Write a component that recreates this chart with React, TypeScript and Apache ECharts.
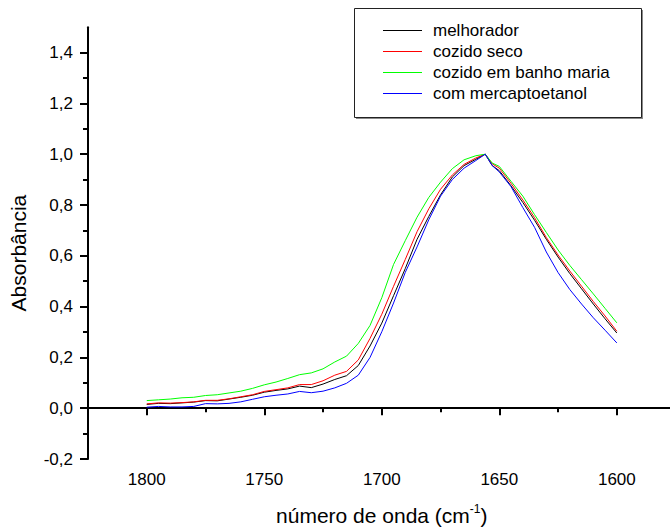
import React, { useEffect, useRef } from 'react';
import * as echarts from 'echarts';

const wavenumbers = [1800, 1795, 1790, 1785, 1780, 1775, 1770, 1765, 1760, 1755, 1750, 1745, 1740, 1735, 1730, 1725, 1720, 1715, 1710, 1705, 1700, 1695, 1690, 1685, 1680, 1675, 1670, 1665, 1660, 1656, 1653, 1650, 1645, 1640, 1635, 1630, 1625, 1620, 1615, 1610, 1605, 1600];

const melhorador = [0.015, 0.019, 0.018, 0.021, 0.024, 0.030, 0.029, 0.036, 0.043, 0.051, 0.063, 0.070, 0.076, 0.087, 0.081, 0.095, 0.113, 0.128, 0.168, 0.245, 0.335, 0.443, 0.55, 0.665, 0.755, 0.84, 0.91, 0.955, 0.98, 1.0, 0.955, 0.935, 0.875, 0.81, 0.74, 0.665, 0.595, 0.53, 0.47, 0.41, 0.352, 0.296];

const cozidoSeco = [0.017, 0.021, 0.020, 0.022, 0.025, 0.031, 0.031, 0.037, 0.045, 0.053, 0.066, 0.073, 0.080, 0.093, 0.093, 0.108, 0.130, 0.145, 0.190, 0.275, 0.370, 0.48, 0.586, 0.695, 0.785, 0.862, 0.918, 0.96, 0.985, 1.0, 0.962, 0.945, 0.885, 0.82, 0.75, 0.672, 0.603, 0.54, 0.48, 0.42, 0.363, 0.303];

const cozidoBanhoMaria = [0.030, 0.033, 0.036, 0.041, 0.043, 0.050, 0.053, 0.060, 0.067, 0.078, 0.092, 0.103, 0.117, 0.132, 0.139, 0.155, 0.182, 0.205, 0.255, 0.326, 0.435, 0.566, 0.66, 0.752, 0.83, 0.89, 0.943, 0.978, 0.994, 1.0, 0.965, 0.952, 0.893, 0.835, 0.762, 0.692, 0.623, 0.562, 0.506, 0.45, 0.393, 0.336];

const comMercaptoetanol = [0.004, 0.007, 0.005, 0.005, 0.007, 0.018, 0.017, 0.019, 0.025, 0.035, 0.045, 0.051, 0.056, 0.066, 0.061, 0.067, 0.080, 0.098, 0.13, 0.20, 0.301, 0.414, 0.535, 0.635, 0.742, 0.835, 0.9, 0.945, 0.975, 1.0, 0.955, 0.93, 0.872, 0.79, 0.712, 0.615, 0.534, 0.467, 0.41, 0.356, 0.307, 0.257];

const seriesNames = ['melhorador', 'cozido seco', 'cozido em banho maria', 'com mercaptoetanol'];
const seriesColors = ['#000000', '#ff0000', '#00ff00', '#0000ff'];

const xMajorTicks = [1800, 1750, 1700, 1650, 1600];
const xMinorTicks = [1825, 1775, 1725, 1675, 1625, 1575];
const yMajorTicks = [-0.2, 0, 0.2, 0.4, 0.6, 0.8, 1.0, 1.2, 1.4];
const yMinorTicks = [-0.1, 0.1, 0.3, 0.5, 0.7, 0.9, 1.1, 1.3];

const FONT = '"Liberation Sans", Arial, sans-serif';

export default function App() {
  const ref = useRef<HTMLDivElement>(null);
  useEffect(() => {
    const chart = echarts.init(ref.current as HTMLDivElement, null, { renderer: 'svg' });
    const allSeries = [melhorador, cozidoSeco, cozidoBanhoMaria, comMercaptoetanol];

    // Legend box drawn as graphic: box, shadow, key lines, labels
    const legendElements: any[] = [
      {
        type: 'rect',
        z: 100,
        silent: true,
        shape: { x: 356, y: 10, width: 287, height: 109 },
        style: { fill: '#8a8a8a' },
      },
      {
        type: 'rect',
        z: 101,
        silent: true,
        shape: { x: 354.5, y: 8.5, width: 287, height: 109 },
        style: { fill: '#ffffff', stroke: '#222222', lineWidth: 1 },
      },
    ];
    seriesNames.forEach((name, i) => {
      const y = 30.5 + 21 * i;
      legendElements.push({
        type: 'line',
        z: 102,
        silent: true,
        shape: { x1: 383, y1: y, x2: 422, y2: y },
        style: { stroke: seriesColors[i], lineWidth: 1 },
      });
      legendElements.push({
        type: 'text',
        z: 102,
        silent: true,
        x: 433,
        y: y,
        style: {
          text: name,
          fill: '#000000',
          font: '17px "Liberation Sans", Arial, sans-serif',
          verticalAlign: 'middle',
          align: 'left',
        },
      });
    });

    const option = {
      animation: false,
      backgroundColor: '#ffffff',
      textStyle: { fontFamily: FONT },
      grid: {
        left: 88,
        top: 27.2,
        width: 587.6,
        height: 431.8,
        containLabel: false,
        outerBoundsMode: 'none',
      },
      graphic: legendElements,
      xAxis: [
        {
          type: 'value',
          inverse: true,
          min: 1575,
          max: 1825,
          position: 'bottom',
          axisLine: { show: true, lineStyle: { color: '#000', width: 2 } },
          axisTick: { show: true, customValues: xMajorTicks, length: 7, lineStyle: { color: '#000', width: 2 } },
          axisLabel: {
            show: true,
            customValues: xMajorTicks,
            fontSize: 17,
            color: '#000',
            margin: 12,
            fontFamily: FONT,
            formatter: (v: number) => String(v),
          },
          splitLine: { show: false },
          name: 'número de onda (cm{sup|-1})',
          nameLocation: 'middle',
          nameGap: 44,
          nameTextStyle: {
            fontSize: 21,
            color: '#000',
            fontFamily: FONT,
            lineHeight: 24,
            rich: { sup: { fontSize: 12, lineHeight: 12, verticalAlign: 'top', color: '#000', fontFamily: FONT } },
          },
        },
        {
          type: 'value',
          inverse: true,
          min: 1575,
          max: 1825,
          position: 'bottom',
          axisLine: { show: false },
          axisTick: { show: true, customValues: xMinorTicks, length: 4, lineStyle: { color: '#000', width: 2 } },
          axisLabel: { show: false },
          splitLine: { show: false },
        },
      ],
      yAxis: [
        {
          type: 'value',
          min: -0.2,
          max: 1.5,
          position: 'left',
          axisLine: { show: true, lineStyle: { color: '#000', width: 2 } },
          axisTick: { show: true, customValues: yMajorTicks, length: 8, lineStyle: { color: '#000', width: 2 } },
          axisLabel: {
            show: true,
            customValues: yMajorTicks,
            fontSize: 17,
            color: '#000',
            margin: 15,
            fontFamily: FONT,
            formatter: (v: number) => v.toFixed(1).replace('.', ','),
          },
          splitLine: { show: false },
          name: 'Absorbância',
          nameLocation: 'middle',
          nameGap: 59,
          nameTextStyle: { fontSize: 21, color: '#000', fontFamily: FONT, padding: [0, 20, 0, 0] },
        },
        {
          type: 'value',
          min: -0.2,
          max: 1.5,
          position: 'left',
          axisLine: { show: false },
          axisTick: { show: true, customValues: yMinorTicks, length: 5, lineStyle: { color: '#000', width: 2 } },
          axisLabel: { show: false },
          splitLine: { show: false },
        },
      ],
      series: allSeries.map((vals, i) => ({
        name: seriesNames[i],
        type: 'line',
        xAxisIndex: 0,
        yAxisIndex: 0,
        showSymbol: false,
        symbol: 'none',
        color: seriesColors[i],
        itemStyle: { color: seriesColors[i] },
        lineStyle: { color: seriesColors[i], width: 1 },
        data: wavenumbers.map((w, j) => [w, vals[j]]),
      })),
    };
    chart.setOption(option as any);
    return () => chart.dispose();
  }, []);
  return (
    <div style={{ position: 'fixed', left: 0, top: 0, width: 670, height: 531, overflow: 'hidden', background: '#fff' }}>
      <div ref={ref} style={{ width: 680, height: 531 }} />
    </div>
  );
}
